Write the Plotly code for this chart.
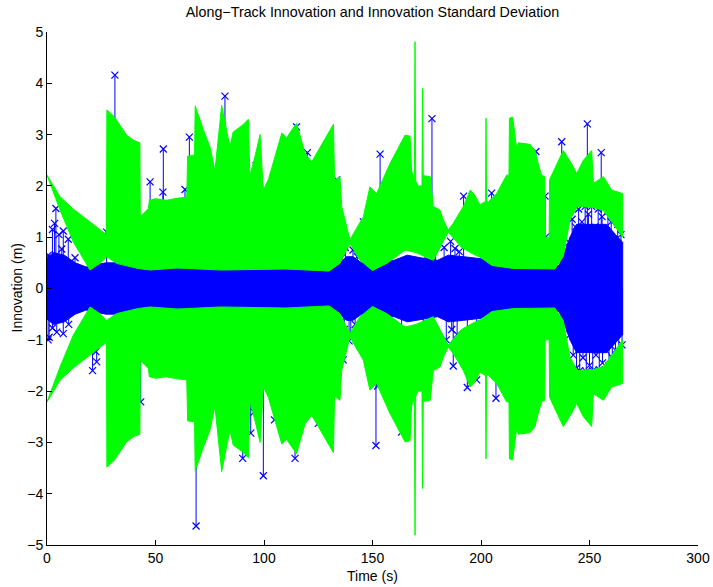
import plotly.graph_objects as go

# Innovation standard deviation envelope (m): outer edge of the +/- sigma band
outer_t = [0, 6, 12.1, 16.7, 24.4, 27.4, 27.6, 31, 36.7, 39.8, 42.8, 43.0, 46.7, 47.2, 50, 55, 60,
           64.4, 64.8, 68.0, 68.3, 72, 75.1, 77.4, 80.5, 84.3, 85.8, 90.3, 92.8, 93.5, 96, 98.2,
           99.7, 102, 108.2, 110.4, 115, 118.9, 122, 124.3, 132, 132.5, 135, 135.8, 139.6, 145.8,
           148.8, 151.9, 158, 165, 167.3, 168, 169.3, 169.6, 169.9, 171, 172.8, 173.1, 173.4,
           176.6, 178, 181.1, 182.6, 184.9, 187.2, 191.9, 195, 197.2, 199.5, 201.8, 202.1, 202.3,
           202.6, 203.4, 207.2, 211.8, 212.9, 213.1, 214.6, 216.4, 217.2, 222.6, 224.9, 226.4,
           227.9, 229.4, 229.6, 231.4, 231.6, 237.9, 241.8, 244.1, 247.2, 251, 251.8, 256.4,
           260.2, 265.3]
outer_sd = [2.21, 1.79, 1.55, 1.40, 1.14, 1.05, 3.48, 3.35, 2.99, 2.89, 2.84, 1.40, 1.56, 1.72, 1.75,
            1.72, 1.76, 1.78, 2.58, 2.60, 3.56, 3.10, 2.76, 2.30, 3.57, 2.76, 3.05, 3.19, 3.30, 2.20,
            2.60, 3.00, 1.92, 2.12, 3.03, 2.94, 3.22, 2.64, 2.47, 2.64, 3.20, 2.10, 2.18, 1.60, 0.95,
            1.40, 1.98, 1.85, 2.43, 2.99, 2.97, 2.30, 2.10, 4.81, 2.10, 2.00, 2.00, 3.90, 2.20, 2.18,
            1.60, 1.53, 1.34, 1.14, 1.27, 1.60, 1.92, 1.82, 1.63, 1.69, 1.69, 3.32, 1.69, 1.69, 1.85,
            2.21, 2.21, 3.32, 3.34, 2.74, 2.84, 2.81, 2.69, 2.43, 2.21, 2.18, 1.00, 1.00, 2.12, 2.69,
            2.43, 2.24, 2.50, 2.69, 2.05, 2.18, 1.92, 1.85]

# Inner edge of the band (updated sigma)
inner_t = [0, 6, 12.1, 15.2, 19.8, 24.4, 27.5, 32, 42, 47.5, 60, 70, 80, 90, 110, 130, 135, 139.6,
           144, 150, 157, 165, 170, 178, 184.9, 191, 196, 200, 205, 215, 234, 237.9, 241, 244.5,
           251.8, 256.4, 260.2, 265.3]
inner_sd = [2.21, 1.53, 0.91, 0.69, 0.36, 0.49, 0.62, 0.49, 0.39, 0.36, 0.40, 0.38, 0.36, 0.37,
            0.38, 0.34, 0.49, 0.88, 0.56, 0.35, 0.50, 0.75, 0.70, 0.55, 1.10, 0.80, 0.68, 0.60,
            0.45, 0.39, 0.38, 0.62, 1.34, 1.60, 1.58, 1.52, 1.30, 1.00]

# Amplitude of the dense innovation core (m)
core_t = [0, 3, 8, 13, 18, 27, 30, 135, 138, 141, 145, 160, 166, 172, 180, 185, 192, 200, 205,
          236, 238.5, 241, 244, 258, 262, 265.3]
core_amp = [0.60, 0.70, 0.65, 0.50, 0.42, 0.50, 0.50, 0.50, 0.62, 0.62, 0.50, 0.55, 0.65, 0.60,
            0.55, 0.65, 0.62, 0.58, 0.50, 0.45, 0.70, 1.00, 1.25, 1.25, 1.05, 0.90]

# Individual large innovations (time s, innovation m)
spike_t = [0.6, 2.5, 3.5, 4.1, 5.5, 6.8, 7.5, 9.8, 12.9, 27.5, 31.3, 46.7, 47.5, 53.4, 53.6, 63.6,
           65.6, 82.0, 96.3, 115.0, 120.0, 133.5, 136.0, 137.5, 141.0, 143.0, 145.8, 153.5, 174.2,
           177.4, 179.0, 183.0, 186.0, 188.0, 190.0, 192.0, 204.9, 225.3, 229.5, 230.0, 237.2,
           249.0, 255.4,
           240.5, 242.0, 243.5, 245.0, 246.5, 248.0, 249.5, 251.0, 252.5, 254.0, 255.8, 257.0,
           258.5, 260.0, 261.5, 263.0, 264.5,
           0.5, 1.0, 2.5, 4.5, 7.5, 10.0, 21.0, 22.5, 22.9, 43.2, 47.5, 68.7, 90.2, 93.9, 95.4,
           99.7, 104.8, 114.3, 125.0, 136.5, 137.0, 139.2, 140.0, 142.0, 151.6, 152.4, 163.4,
           173.4, 184.0, 186.5, 187.2, 189.0, 193.7, 198.0, 206.9,
           241.0, 242.5, 244.0, 245.5, 247.0, 248.5, 250.0, 251.5, 253.0, 254.5, 256.0, 257.5,
           259.0, 260.5, 262.0, 263.5, 265.0]
spike_v = [0.65, 1.15, 1.27, 1.56, 1.05, 0.77, 1.12, 0.96, 0.60, 1.10, 4.16, 0.91, 2.08, 1.88, 2.72,
           1.93, 2.95, 3.75, 2.39, 3.15, 2.65, 2.12, 0.70, 0.80, 0.75, 0.62, 1.30, 2.62, 1.75,
           3.31, 1.46, 0.80, 0.92, 0.78, 0.72, 1.80, 1.86, 2.67, 1.80, 1.01, 2.86,
           3.21, 2.65,
           0.90, 1.35, 1.20, 1.55, 1.30, 1.60, 1.45, 1.60, 1.20, 1.55, 1.40, 1.10,
           1.50, 1.30, 0.90, 1.25, 1.05,
           -1.00, -0.95, -0.77, -0.85, -0.88, -0.70, -1.60, -1.23, -1.43, -2.21, -1.20, -4.63,
           -3.31, -2.82, -2.41, -3.65, -2.56, -3.31, -2.63, -1.39, -0.80, -1.02, -0.90, -0.70,
           -3.06, -1.90, -2.80, -1.90, -1.00, -0.80, -1.51, -0.90, -1.93, -1.78, -2.14,
           -0.90, -1.30, -1.55, -1.60, -1.35, -1.62, -1.50, -1.60, -1.30, -1.58, -1.45, -1.20,
           -1.50, -1.35, -1.20, -1.40, -1.10]

x_ticks = [0, 50, 100, 150, 200, 250, 300]
y_ticks = [-5, -4, -3, -2, -1, 0, 1, 2, 3, 4, 5]

BLUE = "#0000ff"
GREEN = "#00ff00"
FONT = "Liberation Sans, Arial, Helvetica, sans-serif"

fig = go.Figure()

# dense innovation core
fig.add_trace(go.Scatter(
    x=core_t + core_t[::-1],
    y=core_amp + [-a for a in core_amp[::-1]],
    mode="lines", fill="toself", fillcolor=BLUE,
    line=dict(color=BLUE, width=1), hoverinfo="skip", showlegend=False))

# large innovations drawn as stems from the core
stem_x, stem_y = [], []
for t, v in zip(spike_t, spike_v):
    stem_x += [t, t, None]
    stem_y += [0, v, None]
fig.add_trace(go.Scatter(
    x=stem_x, y=stem_y, mode="lines",
    line=dict(color=BLUE, width=1), showlegend=False))
fig.add_trace(go.Scatter(
    x=spike_t, y=spike_v, mode="markers",
    marker=dict(symbol="x-thin", size=7, line=dict(color=BLUE, width=1.2)),
    showlegend=False))

# +/- sigma bands drawn over the innovations
band_x = outer_t + inner_t[::-1]
band_sd = outer_sd + inner_sd[::-1]
for sign in (1, -1):
    fig.add_trace(go.Scatter(
        x=band_x, y=[sign * s for s in band_sd],
        mode="lines", fill="toself", fillcolor=GREEN,
        line=dict(color=GREEN, width=1), hoverinfo="skip", showlegend=False))

axis_common = dict(
    showgrid=False, zeroline=False, showline=True, linecolor="black", linewidth=1,
    ticks="inside", ticklen=5, tickcolor="black", mirror=False, automargin=False,
    tickfont=dict(family=FONT, size=14, color="black"),
)

fig.update_layout(
    width=713, height=587, autosize=False,
    margin=dict(l=47, r=15, t=32, b=42, autoexpand=False),
    paper_bgcolor="white", plot_bgcolor="white",
    showlegend=False,
    font=dict(family=FONT, color="black"),
    title=dict(text="Along\u2212Track Innovation and Innovation Standard Deviation",
               x=0.5, xref="paper", xanchor="center",
               y=1 - 12 / 587, yref="container", yanchor="middle",
               font=dict(family=FONT, size=14.3, color="black")),
    xaxis=dict(range=[0, 300], tickvals=x_ticks, **axis_common),
    yaxis=dict(range=[-5, 5], tickvals=y_ticks, **axis_common),
    annotations=[
        dict(text="Time (s)", x=0.5, y=0, xref="paper", yref="paper",
             xanchor="center", yanchor="middle", yshift=-31, showarrow=False,
             font=dict(family=FONT, size=14, color="black")),
        dict(text="Innovation (m)", x=0, y=0.5, xref="paper", yref="paper",
             xanchor="center", yanchor="middle", xshift=-31, textangle=-90,
             showarrow=False, font=dict(family=FONT, size=14, color="black")),
    ],
)

fig.write_html("out.html")
